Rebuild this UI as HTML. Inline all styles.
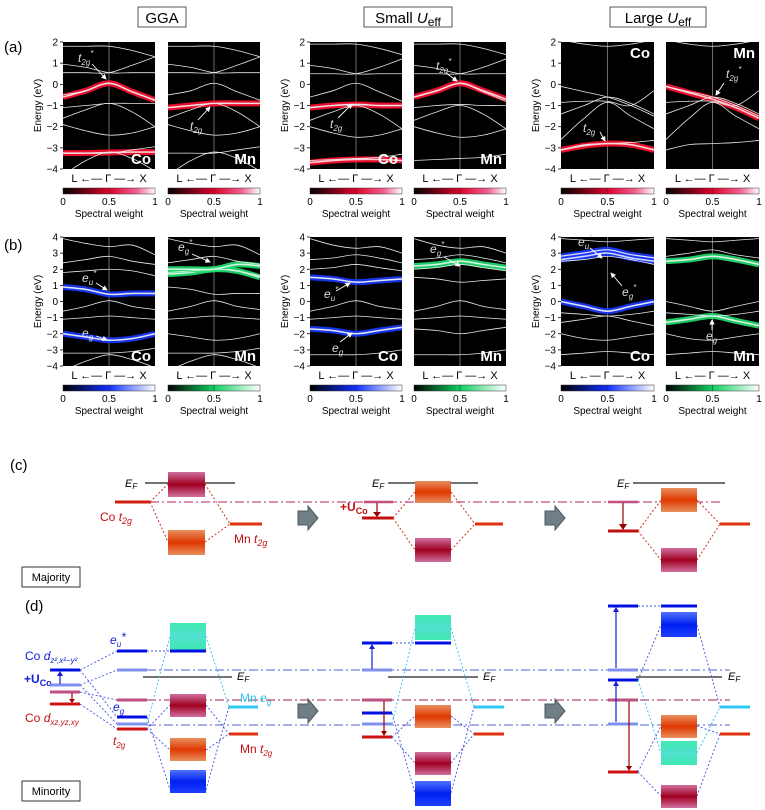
<!DOCTYPE html>
<html><head><meta charset="utf-8">
<style>
body{margin:0;background:#fff;}
svg{display:block;font-family:"Liberation Sans",sans-serif;}
</style></head>
<body>
<svg id="fig" width="765" height="810" viewBox="0 0 765 810" xmlns="http://www.w3.org/2000/svg">
<defs>
<linearGradient id="cbRed" x1="0" x2="1"><stop offset="0" stop-color="#000"/><stop offset="0.5" stop-color="#e0002a"/><stop offset="0.8" stop-color="#f06090"/><stop offset="1" stop-color="#fff"/></linearGradient>
<linearGradient id="cbBlue" x1="0" x2="1"><stop offset="0" stop-color="#000"/><stop offset="0.5" stop-color="#1030ff"/><stop offset="1" stop-color="#fff"/></linearGradient>
<linearGradient id="cbGreen" x1="0" x2="1"><stop offset="0" stop-color="#000"/><stop offset="0.5" stop-color="#10d060"/><stop offset="1" stop-color="#fff"/></linearGradient>
<linearGradient id="gMag" x1="0" y1="0" x2="0" y2="1"><stop offset="0" stop-color="#d070a0"/><stop offset="0.5" stop-color="#a00020"/><stop offset="1" stop-color="#d070a0"/></linearGradient>
<linearGradient id="gOra" x1="0" y1="0" x2="0" y2="1"><stop offset="0" stop-color="#e89060"/><stop offset="0.5" stop-color="#e03800"/><stop offset="1" stop-color="#e89060"/></linearGradient>
<linearGradient id="gCya" x1="0" y1="0" x2="0" y2="1"><stop offset="0" stop-color="#40e8b0"/><stop offset="0.5" stop-color="#50e0d0"/><stop offset="1" stop-color="#40e8b0"/></linearGradient>
<linearGradient id="gBlu" x1="0" y1="0" x2="0" y2="1"><stop offset="0" stop-color="#5070ff"/><stop offset="0.5" stop-color="#0020f0"/><stop offset="1" stop-color="#2040ff"/></linearGradient>
<marker id="wArr" markerWidth="6" markerHeight="6" refX="5" refY="3" orient="auto"><path d="M0 0 L6 3 L0 6Z" fill="#fff"/></marker>
</defs>

<g><rect x="138" y="7" width="48" height="20" fill="#fff" stroke="#555"/><text x="162" y="23" font-size="15" text-anchor="middle">GGA</text></g>
<g><rect x="364" y="7" width="88" height="20" fill="#fff" stroke="#555"/><text x="408" y="23" font-size="15" text-anchor="middle">Small <tspan font-style="italic">U</tspan><tspan font-size="12" dy="3">eff</tspan></text></g>
<g><rect x="610" y="7" width="96" height="20" fill="#fff" stroke="#555"/><text x="658" y="23" font-size="15" text-anchor="middle">Large <tspan font-style="italic">U</tspan><tspan font-size="12" dy="3">eff</tspan></text></g>
<text x="4" y="52" font-size="15">(a)</text>
<text x="4" y="250" font-size="15">(b)</text>

<g id="bands"></g>

<g fill="#ddd" font-size="12" font-style="italic" stroke-width="0.9">
<text x="78" y="62">t<tspan font-size="8" dy="3">2g</tspan><tspan font-size="8" dy="-9">*</tspan></text><line x1="92" y1="64" x2="106" y2="79" stroke="#fff" marker-end="url(#wArr)"/>
<text x="190" y="130">t<tspan font-size="8" dy="3">2g</tspan></text><line x1="198" y1="120" x2="210" y2="107" stroke="#fff" marker-end="url(#wArr)"/>
<text x="330" y="128">t<tspan font-size="8" dy="3">2g</tspan></text><line x1="338" y1="118" x2="352" y2="104" stroke="#fff" marker-end="url(#wArr)"/>
<text x="436" y="70">t<tspan font-size="8" dy="3">2g</tspan><tspan font-size="8" dy="-9">*</tspan></text><line x1="446" y1="73" x2="457" y2="81" stroke="#fff" marker-end="url(#wArr)"/>
<text x="583" y="132">t<tspan font-size="8" dy="3">2g</tspan></text><line x1="600" y1="132" x2="605" y2="141" stroke="#fff" marker-end="url(#wArr)"/>
<text x="726" y="78">t<tspan font-size="8" dy="3">2g</tspan><tspan font-size="8" dy="-9">*</tspan></text><line x1="724" y1="83" x2="716" y2="95" stroke="#fff" marker-end="url(#wArr)"/>
<text x="82" y="282">e<tspan font-size="8" dy="3">u</tspan><tspan font-size="8" dy="-9">*</tspan></text><line x1="96" y1="283" x2="107" y2="290" stroke="#fff" marker-end="url(#wArr)"/>
<text x="82" y="337">e<tspan font-size="8" dy="3">g</tspan></text><line x1="96" y1="336" x2="107" y2="340" stroke="#fff" marker-end="url(#wArr)"/>
<text x="178" y="251">e<tspan font-size="8" dy="3">g</tspan><tspan font-size="8" dy="-9">*</tspan></text><line x1="192" y1="254" x2="210" y2="262" stroke="#fff" marker-end="url(#wArr)"/>
<text x="324" y="298">e<tspan font-size="8" dy="3">u</tspan><tspan font-size="8" dy="-9">*</tspan></text><line x1="336" y1="291" x2="350" y2="283" stroke="#fff" marker-end="url(#wArr)"/>
<text x="332" y="352">e<tspan font-size="8" dy="3">g</tspan></text><line x1="340" y1="342" x2="352" y2="333" stroke="#fff" marker-end="url(#wArr)"/>
<text x="430" y="253">e<tspan font-size="8" dy="3">g</tspan><tspan font-size="8" dy="-9">*</tspan></text><line x1="444" y1="257" x2="460" y2="266" stroke="#fff" marker-end="url(#wArr)"/>
<text x="578" y="246">e<tspan font-size="8" dy="3">u</tspan><tspan font-size="8" dy="-9">*</tspan></text><line x1="590" y1="248" x2="602" y2="258" stroke="#fff" marker-end="url(#wArr)"/>
<text x="622" y="296">e<tspan font-size="8" dy="3">g</tspan><tspan font-size="8" dy="-9">*</tspan></text><line x1="622" y1="286" x2="611" y2="273" stroke="#fff" marker-end="url(#wArr)"/>
<text x="706" y="340">e<tspan font-size="8" dy="3">g</tspan></text><line x1="712" y1="330" x2="712" y2="320" stroke="#fff" marker-end="url(#wArr)"/>
</g>

<g>
<text x="10" y="470" font-size="15">(c)</text>
<line x1="150" y1="502" x2="720" y2="502" stroke="#c05080" stroke-width="1.2" stroke-dasharray="9,3,2,3"/>
<line x1="145" y1="483" x2="235" y2="483" stroke="#444" stroke-width="1.5"/>
<text x="125" y="487" font-size="11" font-style="italic">E<tspan font-size="8" dy="2">F</tspan></text>
<line x1="115" y1="502" x2="150" y2="502" stroke="#d02010" stroke-width="3"/>
<text x="100" y="521" font-size="12" fill="#c01010">Co <tspan font-style="italic">t</tspan><tspan font-size="9" dy="3" font-style="italic">2g</tspan></text>
<rect x="168" y="472" width="37" height="25" fill="url(#gMag)"/>
<rect x="168" y="530" width="37" height="25" fill="url(#gOra)"/>
<line x1="230" y1="524" x2="262" y2="524" stroke="#e03010" stroke-width="3"/>
<text x="234" y="543" font-size="12" fill="#c01010">Mn <tspan font-style="italic">t</tspan><tspan font-size="9" dy="3" font-style="italic">2g</tspan></text>
<path d="M150 502 L168 484 M150 502 L168 542 M205 484 L230 524 M205 542 L230 524" stroke="#d03020" stroke-width="1" stroke-dasharray="2,2" fill="none"/>
<line x1="388" y1="483" x2="478" y2="483" stroke="#444" stroke-width="1.5"/>
<text x="372" y="487" font-size="11" font-style="italic">E<tspan font-size="8" dy="2">F</tspan></text>
<line x1="364" y1="502" x2="393" y2="502" stroke="#c05080" stroke-width="2.5"/>
<line x1="362" y1="518" x2="393" y2="518" stroke="#c01010" stroke-width="3"/>
<line x1="377" y1="503" x2="377" y2="515" stroke="#900" stroke-width="1.2"/><path d="M373 512 L381 512 L377 517Z" fill="#900"/>
<text x="340" y="511" font-size="12" font-weight="bold" fill="#c01010">+U<tspan font-size="9" dy="3">Co</tspan></text>
<rect x="415" y="481" width="36" height="22" fill="url(#gOra)"/>
<rect x="415" y="538" width="36" height="24" fill="url(#gMag)"/>
<line x1="475" y1="524" x2="503" y2="524" stroke="#e03010" stroke-width="3"/>
<path d="M393 518 L415 492 M393 518 L415 550 M451 492 L475 524 M451 550 L475 524" stroke="#d03020" stroke-width="1" stroke-dasharray="2,2" fill="none"/>
<line x1="633" y1="483" x2="725" y2="483" stroke="#444" stroke-width="1.5"/>
<text x="617" y="487" font-size="11" font-style="italic">E<tspan font-size="8" dy="2">F</tspan></text>
<line x1="608" y1="502" x2="638" y2="502" stroke="#c05080" stroke-width="2.5"/>
<line x1="608" y1="531" x2="638" y2="531" stroke="#c01010" stroke-width="3"/>
<line x1="623" y1="503" x2="623" y2="527" stroke="#900" stroke-width="1.2"/><path d="M619 524 L627 524 L623 530Z" fill="#900"/>
<rect x="661" y="488" width="36" height="24" fill="url(#gOra)"/>
<rect x="661" y="548" width="36" height="24" fill="url(#gMag)"/>
<line x1="720" y1="524" x2="750" y2="524" stroke="#e03010" stroke-width="3"/>
<path d="M638 531 L661 500 M638 531 L661 560 M697 500 L720 524 M697 560 L720 524" stroke="#d03020" stroke-width="1" stroke-dasharray="2,2" fill="none"/>
<path d="M298 511 L308 511 L308 506 L318 518 L308 530 L308 525 L298 525Z" fill="#6f7f85" stroke="#4a5a60"/>
<path d="M545 511 L555 511 L555 506 L565 518 L555 530 L555 525 L545 525Z" fill="#6f7f85" stroke="#4a5a60"/>
<rect x="22" y="567" width="58" height="20" fill="#fff" stroke="#333"/>
<text x="51" y="581" font-size="11" text-anchor="middle">Majority</text>
</g>

<g>
<text x="25" y="611" font-size="15">(d)</text>
<line x1="147" y1="670" x2="730" y2="670" stroke="#5060d0" stroke-width="1.1" stroke-dasharray="9,3,2,3"/>
<line x1="147" y1="700" x2="730" y2="700" stroke="#a02050" stroke-width="1.1" stroke-dasharray="9,3,2,3"/>
<line x1="147" y1="725" x2="730" y2="725" stroke="#5060d0" stroke-width="1.1" stroke-dasharray="9,3,2,3"/>
<text x="25" y="660" font-size="12" fill="#1020d0">Co <tspan font-style="italic">d</tspan><tspan font-size="8" dy="3" font-style="italic">z²,x²−y²</tspan></text>
<text x="25" y="722" font-size="12" fill="#c01010">Co <tspan font-style="italic">d</tspan><tspan font-size="8" dy="3" font-style="italic">xz,yz,xy</tspan></text>
<text x="24" y="683" font-size="12" font-weight="bold" fill="#1020d0">+U<tspan font-size="9" dy="3">Co</tspan></text>
<line x1="50" y1="670" x2="80" y2="670" stroke="#0010e0" stroke-width="3"/>
<line x1="50" y1="685" x2="80" y2="685" stroke="#8090f0" stroke-width="3"/>
<line x1="50" y1="692" x2="80" y2="692" stroke="#c05080" stroke-width="3"/>
<line x1="50" y1="704" x2="80" y2="704" stroke="#d01010" stroke-width="3"/>
<line x1="60" y1="684" x2="60" y2="674" stroke="#1020d0" stroke-width="1.2"/><path d="M57 676 L63 676 L60 671Z" fill="#1020d0"/>
<line x1="72" y1="693" x2="72" y2="701" stroke="#900" stroke-width="1.2"/><path d="M69 699 L75 699 L72 703Z" fill="#900"/>
<path d="M80 670 L117 651 M80 670 L117 717 M80 685 L117 670 M80 685 L117 724 M80 692 L117 700 M80 704 L117 729" stroke="#4050e0" stroke-width="0.9" stroke-dasharray="2,2" fill="none"/>
<text x="110" y="644" font-size="12" fill="#1020d0" font-style="italic">e<tspan font-size="8" dy="3">u</tspan><tspan dy="-6">*</tspan></text>
<text x="113" y="711" font-size="12" fill="#1020d0" font-style="italic">e<tspan font-size="8" dy="3">g</tspan></text>
<text x="113" y="745" font-size="12" fill="#c01010" font-style="italic">t<tspan font-size="8" dy="3">2g</tspan></text>
<line x1="117" y1="651" x2="147" y2="651" stroke="#0010e0" stroke-width="3"/>
<line x1="117" y1="670" x2="147" y2="670" stroke="#8090f0" stroke-width="3"/>
<line x1="117" y1="700" x2="147" y2="700" stroke="#c05080" stroke-width="3"/>
<line x1="117" y1="717" x2="147" y2="717" stroke="#0010e0" stroke-width="3"/>
<line x1="117" y1="724" x2="147" y2="724" stroke="#8090f0" stroke-width="3"/>
<line x1="117" y1="729" x2="147" y2="729" stroke="#d01010" stroke-width="3"/>
<rect x="170" y="623" width="36" height="27" fill="url(#gCya)"/>
<line x1="170" y1="651" x2="206" y2="651" stroke="#0010e0" stroke-width="3"/>
<rect x="170" y="694" width="36" height="23" fill="url(#gMag)"/>
<rect x="170" y="738" width="36" height="23" fill="url(#gOra)"/>
<rect x="170" y="770" width="36" height="23" fill="url(#gBlu)"/>
<line x1="143" y1="677" x2="232" y2="677" stroke="#444" stroke-width="1.5"/>
<text x="237" y="680" font-size="11" font-style="italic">E<tspan font-size="8" dy="2">F</tspan></text>
<line x1="229" y1="707" x2="258" y2="707" stroke="#30c8f0" stroke-width="3"/>
<line x1="229" y1="734" x2="258" y2="734" stroke="#e03010" stroke-width="3"/>
<text x="240" y="702" font-size="12" fill="#30c0e8">Mn <tspan font-style="italic">e</tspan><tspan font-size="8" dy="3" font-style="italic">g</tspan></text>
<text x="240" y="753" font-size="12" fill="#c01010">Mn <tspan font-style="italic">t</tspan><tspan font-size="8" dy="3" font-style="italic">2g</tspan></text>
<path d="M147 651 L170 651 M147 717 L170 790 M206 790 L229 707 M147 729 L170 705 M147 729 L170 750 M206 705 L229 734 M206 750 L229 734" stroke="#4050e0" stroke-width="0.9" stroke-dasharray="2,2" fill="none"/>
<path d="M147 724 L170 636 M206 636 L229 707" stroke="#30c0e8" stroke-width="0.9" stroke-dasharray="2,2" fill="none"/>
<line x1="362" y1="643" x2="392" y2="643" stroke="#0010e0" stroke-width="3"/>
<line x1="362" y1="670" x2="392" y2="670" stroke="#8090f0" stroke-width="3"/>
<line x1="362" y1="700" x2="392" y2="700" stroke="#c05080" stroke-width="3"/>
<line x1="362" y1="713" x2="392" y2="713" stroke="#0010e0" stroke-width="3"/>
<line x1="362" y1="724" x2="392" y2="724" stroke="#8090f0" stroke-width="3"/>
<line x1="362" y1="737" x2="392" y2="737" stroke="#d01010" stroke-width="3"/>
<line x1="372" y1="669" x2="372" y2="647" stroke="#1020d0" stroke-width="1.2"/><path d="M369 649 L375 649 L372 644Z" fill="#1020d0"/>
<line x1="384" y1="701" x2="384" y2="733" stroke="#900" stroke-width="1.2"/><path d="M381 731 L387 731 L384 736Z" fill="#900"/>
<rect x="415" y="615" width="36" height="25" fill="url(#gCya)"/>
<line x1="415" y1="643" x2="451" y2="643" stroke="#0010e0" stroke-width="3"/>
<rect x="415" y="705" width="36" height="23" fill="url(#gOra)"/>
<rect x="415" y="752" width="36" height="23" fill="url(#gMag)"/>
<rect x="415" y="781" width="36" height="25" fill="url(#gBlu)"/>
<line x1="388" y1="677" x2="478" y2="677" stroke="#444" stroke-width="1.5"/>
<text x="483" y="680" font-size="11" font-style="italic">E<tspan font-size="8" dy="2">F</tspan></text>
<line x1="474" y1="707" x2="504" y2="707" stroke="#30c8f0" stroke-width="3"/>
<line x1="474" y1="734" x2="504" y2="734" stroke="#e03010" stroke-width="3"/>
<path d="M392 643 L415 643 M392 713 L415 793 M451 793 L474 707 M392 737 L415 716 M392 737 L415 763 M451 716 L474 734 M451 763 L474 734" stroke="#4050e0" stroke-width="0.9" stroke-dasharray="2,2" fill="none"/>
<path d="M392 724 L415 628 M451 628 L474 707" stroke="#30c0e8" stroke-width="0.9" stroke-dasharray="2,2" fill="none"/>
<line x1="608" y1="606" x2="638" y2="606" stroke="#0010e0" stroke-width="3"/>
<line x1="608" y1="670" x2="638" y2="670" stroke="#8090f0" stroke-width="3"/>
<line x1="608" y1="680" x2="638" y2="680" stroke="#0010e0" stroke-width="3"/>
<line x1="608" y1="700" x2="638" y2="700" stroke="#c05080" stroke-width="3"/>
<line x1="608" y1="724" x2="638" y2="724" stroke="#8090f0" stroke-width="3"/>
<line x1="608" y1="772" x2="638" y2="772" stroke="#d01010" stroke-width="3"/>
<line x1="616" y1="668" x2="616" y2="610" stroke="#1020d0" stroke-width="1.2"/><path d="M613 612 L619 612 L616 607Z" fill="#1020d0"/>
<line x1="616" y1="722" x2="616" y2="684" stroke="#1020d0" stroke-width="1.2"/><path d="M613 686 L619 686 L616 681Z" fill="#1020d0"/>
<line x1="629" y1="701" x2="629" y2="768" stroke="#900" stroke-width="1.2"/><path d="M626 766 L632 766 L629 771Z" fill="#900"/>
<line x1="661" y1="606" x2="697" y2="606" stroke="#0010e0" stroke-width="3"/>
<rect x="661" y="612" width="36" height="25" fill="url(#gBlu)"/>
<rect x="661" y="715" width="36" height="23" fill="url(#gOra)"/>
<rect x="661" y="741" width="36" height="24" fill="url(#gCya)"/>
<rect x="661" y="785" width="36" height="23" fill="url(#gMag)"/>
<line x1="636" y1="677" x2="722" y2="677" stroke="#444" stroke-width="1.5"/>
<text x="728" y="680" font-size="11" font-style="italic">E<tspan font-size="8" dy="2">F</tspan></text>
<line x1="720" y1="707" x2="750" y2="707" stroke="#30c8f0" stroke-width="3"/>
<line x1="720" y1="734" x2="750" y2="734" stroke="#e03010" stroke-width="3"/>
<path d="M638 606 L661 606 M638 680 L661 625 M697 625 L720 707 M638 772 L661 726 M638 772 L661 796 M697 726 L720 734 M697 796 L720 734" stroke="#4050e0" stroke-width="0.9" stroke-dasharray="2,2" fill="none"/>
<path d="M638 680 L661 753 M697 753 L720 707" stroke="#30c0e8" stroke-width="0.9" stroke-dasharray="2,2" fill="none"/>
<path d="M298 704 L308 704 L308 699 L318 711 L308 723 L308 718 L298 718Z" fill="#6f7f85" stroke="#4a5a60"/>
<path d="M545 704 L555 704 L555 699 L565 711 L555 723 L555 718 L545 718Z" fill="#6f7f85" stroke="#4a5a60"/>
<rect x="22" y="781" width="58" height="20" fill="#fff" stroke="#333"/>
<text x="51" y="795" font-size="11" text-anchor="middle">Minority</text>
</g>
</svg>

<script>
// k-path sample positions: L, mid L-Γ, Γ, mid Γ-X, X
const kPoints = [0, 0.25, 0.5, 0.75, 1];
const panelNames = ['gga-co','gga-mn','small-co','small-mn','large-co','large-mn'];
const elements = ['Co','Mn','Co','Mn','Co','Mn'];
const whiteA_gga = [[1.8,1.8,1.8,1.6,1.3],[0.95,0.8,0.55,0.55,0.55],[0.55,0.55,0.55,0.9,1.3],[-0.5,-0.3,0.05,-0.35,-0.75],[-1.1,-1.0,-0.9,-0.9,-0.9],[-1.6,-1.2,-0.9,-1.3,-2.0],[-1.9,-2.2,-2.4,-2.3,-2.0],[-3.25,-3.25,-3.25,-3.1,-2.95],[-4.3,-3.6,-3.2,-3.5,-4.1]];
const whiteA_small = [[1.9,1.9,1.9,1.7,1.4],[0.9,0.75,0.5,0.5,0.5],[0.5,0.5,0.5,0.8,1.2],[-0.6,-0.3,0.05,-0.35,-0.8],[-1.1,-1.0,-0.95,-1.0,-1.0],[-1.7,-1.3,-1.0,-1.4,-2.1],[-2.0,-2.3,-2.5,-2.4,-2.1],[-3.6,-3.55,-3.5,-3.45,-3.3]];
const whiteA_large = [[2.1,1.9,1.8,1.9,2.1],[-0.1,-0.35,-0.6,-1.0,-1.5],[-1.4,-1.0,-0.6,-0.9,-1.4],[-2.6,-1.6,-0.85,-1.5,-2.1],[-0.85,-0.8,-0.8,-1.0,-0.3],[-3.1,-2.85,-2.8,-2.75,-2.65]];
const hiA = [
  [[-0.6,-0.3,0.05,-0.35,-0.75],[-3.25,-3.25,-3.22,-3.2,-3.2]],
  [[-1.1,-1.0,-0.9,-0.9,-0.9]],
  [[-1.1,-1.0,-0.95,-1.0,-1.0],[-3.7,-3.6,-3.55,-3.55,-3.6]],
  [[-0.6,-0.3,0.05,-0.3,-0.7]],
  [[-3.1,-2.9,-2.8,-2.85,-3.1]],
  [[-0.1,-0.4,-0.7,-1.1,-1.6]]
];
const whiteB_gga = [[3.9,3.6,3.4,3.5,2.9],[2.4,2.6,2.8,2.5,2.3],[1.8,1.9,2.0,1.9,1.6],[0.9,0.75,0.45,0.5,0.5],[-0.6,-0.3,0.05,-0.3,-0.5],[-1.1,-1.0,-0.9,-1.0,-1.1],[-2.0,-2.2,-2.4,-2.3,-2.0],[-3.2,-3.2,-3.2,-3.1,-2.9],[-4.3,-3.7,-3.3,-3.6,-4.1]];
const whiteB_small = [[3.9,3.5,3.3,3.4,3.0],[2.6,2.7,2.9,2.7,2.4],[2.0,2.1,2.3,2.1,1.9],[1.5,1.4,1.2,1.3,1.4],[-0.6,-0.3,0.05,-0.3,-0.5],[-1.1,-1.0,-0.9,-1.0,-1.1],[-1.7,-1.8,-2.0,-1.8,-1.6],[-3.3,-3.3,-3.3,-3.2,-3.0]];
const whiteB_large = [[3.9,3.8,3.7,3.8,3.9],[2.8,3.0,3.2,2.9,2.7],[2.5,2.6,2.8,2.6,2.3],[0.0,-0.3,-0.6,-0.3,0.0],[-0.7,-0.8,-0.9,-0.8,-0.6],[-1.3,-1.1,-0.9,-1.2,-1.5],[-2.0,-2.3,-2.4,-2.2,-2.0],[-3.3,-3.2,-3.1,-3.2,-3.3]];
const hiB = [
  [[0.9,0.75,0.45,0.5,0.5],[-2.0,-2.2,-2.4,-2.3,-2.0]],
  [[1.7,1.8,2.0,1.9,1.5],[2.0,2.0,2.0,2.3,2.2]],
  [[1.5,1.4,1.2,1.3,1.4],[-1.7,-1.8,-2.0,-1.8,-1.6]],
  [[2.2,2.3,2.5,2.3,2.1]],
  [[2.8,3.0,3.2,2.9,2.7],[2.6,2.8,3.0,2.7,2.5],[0.0,-0.3,-0.6,-0.3,0.0]],
  [[2.5,2.6,2.8,2.6,2.3],[-1.3,-1.1,-0.9,-1.2,-1.5]]
];
const tickA = [2,1,0,-1,-2,-3,-4];
const tickB = [4,3,2,1,0,-1,-2,-3,-4];
const cbTicks = ['0','0.5','1'];

const svg = document.getElementById('fig');
const root = document.getElementById('bands');
const NS = 'http://www.w3.org/2000/svg';
const colX = [[63,155],[168,260],[310,402],[414,506],[561,654],[666,759]];
function mk(tag, attrs, parent){const e=document.createElementNS(NS,tag);for(const k in attrs)e.setAttribute(k,attrs[k]);(parent||root).appendChild(e);return e;}
function pathFor(vals, xs, ys){
  const pts = vals.map((v,i)=>[xs(kPoints[i]), ys(v)]);
  let d = 'M'+pts[0][0]+' '+pts[0][1];
  for(let i=0;i<pts.length-1;i++){
    const p0=pts[Math.max(0,i-1)],p1=pts[i],p2=pts[i+1],p3=pts[Math.min(pts.length-1,i+2)];
    const c1=[p1[0]+(p2[0]-p0[0])/6,p1[1]+(p2[1]-p0[1])/6], c2=[p2[0]-(p3[0]-p1[0])/6,p2[1]-(p3[1]-p1[1])/6];
    d+=' C'+c1[0]+' '+c1[1]+' '+c2[0]+' '+c2[1]+' '+p2[0]+' '+p2[1];
  }
  return d;
}
function drawRow(row){
  const top = row==='a'?42:237, bot = row==='a'?169:366;
  const emax = row==='a'?2:4, emin=-4;
  const ticks = row==='a'?tickA:tickB;
  for(let p=0;p<6;p++){
    const [x0,x1]=colX[p];
    const xs = k=>x0+k*(x1-x0);
    const ys = e=>top+(emax-e)/(emax-emin)*(bot-top);
    const g = mk('g',{});
    
    
    const cid='clip'+row+p;
    const cp=mk('clipPath',{id:cid},g); mk('rect',{x:x0,y:top,width:x1-x0,height:bot-top},cp);
    mk('rect',{x:x0,y:top,width:x1-x0,height:bot-top,fill:'#000'},g);
    const inner=mk('g',{'clip-path':'url(#'+cid+')'},g);
    mk('line',{x1:xs(0.5),x2:xs(0.5),y1:top,y2:bot,stroke:'#888','stroke-width':0.8},inner);
    const col = Math.floor(p/2);
    const white = row==='a'?[whiteA_gga,whiteA_small,whiteA_large][col]:[whiteB_gga,whiteB_small,whiteB_large][col];
    const hi = (row==='a'?hiA:hiB)[p];
    const hc = row==='a'?'#ff1030':(p%2===0?'#1838ff':'#20e070');
    hi.forEach(b=>{
      const e=mk('path',{d:pathFor(b,xs,ys),stroke:hc,'stroke-width':6,fill:'none',opacity:0.9},inner);
      
      
      mk('path',{d:pathFor(b,xs,ys),stroke:'#fff','stroke-width':1.6,fill:'none',opacity:0.8},inner);
    });
    white.forEach(b=>{
      const e=mk('path',{d:pathFor(b,xs,ys),stroke:'#e8e8e8','stroke-width':0.8,fill:'none'},inner);
      
      
    });
    const topLabel = row==='a' && col===2;
    const lbl=mk('text',{x:x1-4,y:topLabel?top+16:bot-5,'font-size':15,'font-weight':'bold',fill:'#fff','text-anchor':'end'},g);
    lbl.textContent=elements[p];
    
    
    if(p%2===0){
      ticks.forEach(t=>{
        mk('line',{x1:x0-3,x2:x0,y1:ys(t),y2:ys(t),stroke:'#000','stroke-width':0.8},g);
        const tt=mk('text',{x:x0-5,y:ys(t)+3.5,'font-size':10,'text-anchor':'end'},g);
        tt.textContent=(t<0?'\u2212'+(-t):String(t));
        
        
      });
      const yt=mk('text',{x:0,y:0,'font-size':10,'text-anchor':'middle',transform:'translate('+(x0-22)+','+((top+bot)/2)+') rotate(-90)'},g);
      yt.textContent='Energy (eV)';
      
      
    }
    const ky = bot+13;
    const kl=mk('text',{x:(x0+x1)/2,y:ky,'font-size':11,'text-anchor':'middle'},g);
    kl.textContent='L  \u2190\u2014 \u0393 \u2014\u2192  X';
    
    
    const cy = bot+19;
    const grad = row==='a'?'cbRed':(p%2===0?'cbBlue':'cbGreen');
    const cb=mk('rect',{x:x0,y:cy,width:x1-x0,height:6,fill:'url(#'+grad+')',stroke:'#333','stroke-width':0.5},g);
    
    
    mk('line',{x1:(x0+x1)/2,x2:(x0+x1)/2,y1:cy,y2:cy+6,stroke:'#333','stroke-width':0.6},g);
    cbTicks.forEach((t,i)=>{
      const tx=mk('text',{x:x0+i*(x1-x0)/2,y:cy+17,'font-size':10,'text-anchor':'middle'},g);
      tx.textContent=t;
      
      
    });
    const st=mk('text',{x:(x0+x1)/2,y:cy+29,'font-size':10,'text-anchor':'middle'},g);
    st.textContent='Spectral weight';
    
    
  }
}
drawRow('a'); drawRow('b');
</script>
</body></html>
